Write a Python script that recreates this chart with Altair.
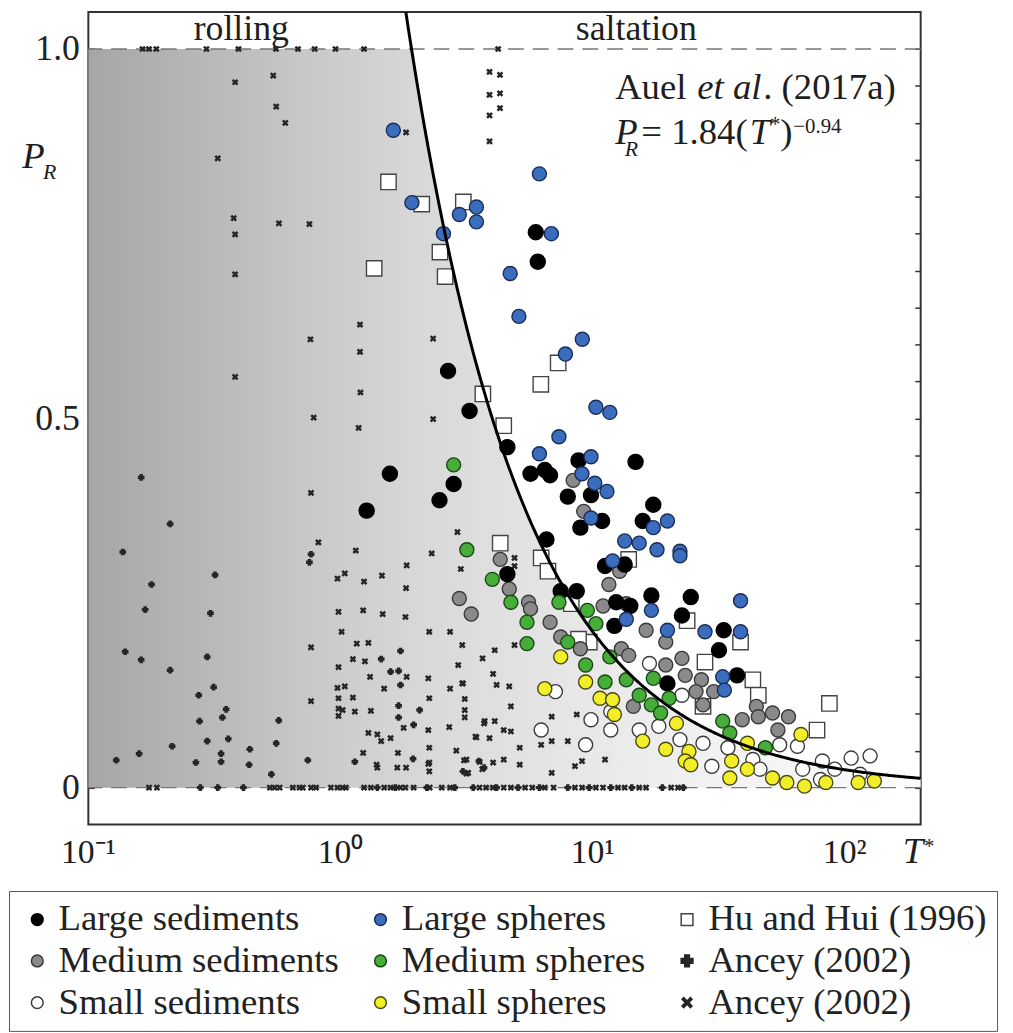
import altair as alt
import pandas as pd
import numpy as np

FONT = "Liberation Serif"

# ---------------- data (T*, P_R) ----------------
LARGE_SED_T = [2.67, 3.25, 5.95, 6.06, 1.57, 1.27, 2.81, 2.47, 4.59, 5.67, 6.46, 6.78, 8.79, 14.8,
               7.97, 9.85, 17.4, 15.8, 8.94, 10.9, 6.56, 4.59, 7.47, 8.65, 11.2, 13.4, 12.4, 14.1,
               17.1, 24.5, 22.6, 12.2, 33.1, 37.4, 31.7, 19.8]
LARGE_SED_P = [0.564, 0.510, 0.752, 0.712, 0.425, 0.375, 0.411, 0.389, 0.461, 0.425, 0.430, 0.423,
               0.443, 0.441, 0.394, 0.396, 0.383, 0.361, 0.352, 0.361, 0.336, 0.289, 0.266, 0.266,
               0.300, 0.302, 0.251, 0.246, 0.260, 0.258, 0.233, 0.219, 0.213, 0.152, 0.186, 0.141]

MED_SED_T = [2.96, 3.3, 8.37, 9.22, 12.8, 11.6, 4.30, 4.67, 5.57, 5.67, 6.78, 7.47, 8.94, 11.0,
             13.6, 13.0, 13.9, 16.3, 19.5, 19.5, 22.6, 23.3, 27.0, 25.7, 30.2, 27.4, 14.5, 39.2,
             44.6, 45.4, 51.7, 59.8, 54.3]
MED_SED_P = [0.256, 0.235, 0.416, 0.374, 0.293, 0.275, 0.309, 0.269, 0.251, 0.242, 0.224, 0.204,
             0.188, 0.246, 0.249, 0.188, 0.179, 0.213, 0.197, 0.166, 0.175, 0.152, 0.146, 0.130,
             0.130, 0.112, 0.110, 0.092, 0.110, 0.096, 0.101, 0.096, 0.078]

SMALL_SED_T = [7.12, 6.25, 9.38, 9.85, 11.8, 11.8, 15.3, 18.3, 16.8, 22.6, 22.2, 27.4, 29.7, 34.4,
               43.2, 46.1, 55.2, 64.9, 68.1, 80.1, 81.5, 91.3, 106, 126, 115]
SMALL_SED_P = [0.130, 0.078, 0.058, 0.092, 0.103, 0.078, 0.078, 0.083, 0.168, 0.125, 0.065, 0.060,
               0.029, 0.054, 0.038, 0.025, 0.058, 0.056, 0.025, 0.011, 0.036, 0.025, 0.040, 0.043,
               0.018]

LARGE_SPH_T = [1.62, 1.92, 2.96, 3.46, 3.46, 2.56, 6.15, 6.86, 4.71, 5.10, 9.1, 7.8, 10.3, 11.7,
               7.35, 6.15, 9.85, 9.07, 10.2, 11.4, 9.85, 19.8, 17.4, 13.4, 15.3, 18.0, 22.2, 22.2,
               12.0, 38.6, 17.1, 13.6, 19.8, 27.9, 38.6, 32.8, 33.3]
LARGE_SPH_P = [0.890, 0.792, 0.776, 0.786, 0.766, 0.750, 0.831, 0.750, 0.696, 0.638, 0.607, 0.587,
               0.515, 0.508, 0.475, 0.452, 0.448, 0.425, 0.412, 0.401, 0.365, 0.361, 0.352, 0.334,
               0.331, 0.322, 0.320, 0.314, 0.307, 0.253, 0.240, 0.228, 0.213, 0.211, 0.211, 0.150,
               0.132]

MED_SPH_T = [2.81, 3.17, 4.0, 4.74, 5.49, 5.49, 7.35, 9.53, 10.3, 7.97, 9.38, 11.2, 11.7, 13.6,
             15.3, 17.1, 18.6, 17.4, 20.1, 32.8, 35.0, 48.4]
MED_SPH_P = [0.437, 0.322, 0.282, 0.251, 0.224, 0.195, 0.251, 0.240, 0.222, 0.197, 0.166, 0.143,
             0.177, 0.146, 0.125, 0.112, 0.101, 0.148, 0.121, 0.090, 0.074, 0.054]

SMALL_SPH_T = [7.47, 6.46, 9.38, 10.7, 12.0, 12.2, 15.8, 19.5, 21.5, 24.1, 23.3, 24.5, 35.6, 35.0,
               41.1, 51.7, 58.9, 69.2, 67.0, 84.1, 131, 113, 41.1]
SMALL_SPH_P = [0.177, 0.134, 0.143, 0.121, 0.119, 0.099, 0.063, 0.052, 0.087, 0.049, 0.036, 0.031,
               0.036, 0.013, 0.060, 0.013, 0.007, 0.002, 0.072, 0.007, 0.009, 0.007, 0.025]

HU_T = [1.55, 2.10, 3.07, 1.36, 2.48, 2.60, 3.67, 7.3, 6.23, 4.44, 4.30, 6.25, 6.65, 13.9, 8.23,
        9.70, 8.79, 23.7, 38.6, 27.9, 27.4, 43.2, 45.4, 77.6, 86.9]
HU_P = [0.820, 0.790, 0.793, 0.703, 0.725, 0.692, 0.533, 0.575, 0.546, 0.490, 0.331, 0.311, 0.293,
        0.309, 0.249, 0.197, 0.201, 0.226, 0.197, 0.170, 0.110, 0.146, 0.125, 0.078, 0.114]

ANCEY_PLUS_T = [0.162, 0.211, 0.137, 0.178, 0.168, 0.318, 0.305, 0.140, 0.296, 0.162, 0.211, 0.314,
                0.274, 0.352, 0.340, 0.276, 0.569, 0.215, 0.359, 0.296, 0.556, 0.437, 0.336, 0.336,
                0.159, 0.129, 0.267, 0.434, 0.742, 0.532, 0.764, 0.753, 1.73, 1.45, 1.58, 1.70,
                1.73, 1.70, 1.70, 1.95, 2.06, 1.14, 1.94, 3.06, 3.54, 3.71,
                0.278, 0.326, 0.412, 1.40, 1.65, 2.20, 2.84, 3.36, 4.16, 5.06, 6.15, 7.97, 9.69,
                11.8, 14.3, 18.9, 22.9]
ANCEY_PLUS_P = [0.420, 0.357, 0.319, 0.275, 0.241, 0.288, 0.236, 0.184, 0.177, 0.173, 0.159, 0.136,
                0.125, 0.106, 0.095, 0.090, 0.091, 0.056, 0.066, 0.063, 0.060, 0.052, 0.046, 0.035,
                0.046, 0.037, 0.034, 0.031, 0.037, 0.018, 0.316, 0.305, 0.185, 0.174, 0.157, 0.158,
                0.139, 0.111, 0.095, 0.085, 0.105, 0.035, 0.039, 0.022, 0.036, 0.027,
                0.0, 0.0, 0.0, 0.0, 0.0, 0.0, 0.0, 0.0, 0.0, 0.0, 0.0, 0.0, 0.0,
                0.0, 0.0, 0.0, 0.0]

ANCEY_CROSS_T = [0.164, 0.174, 0.186, 0.294, 0.394, 0.555, 0.678, 0.79, 0.955, 1.24, 4.22,
                 0.382, 0.541, 0.556, 0.604, 0.326, 0.377, 0.382, 0.570, 0.753, 0.382, 1.82, 1.195,
                 0.760, 1.195, 2.33, 0.382, 1.20,
                 3.90, 4.29, 3.90, 4.29, 3.90, 4.29, 3.90,
                 2.33, 0.783, 1.18, 0.764, 0.817, 1.15, 2.30, 1.83, 2.91, 3.0, 0.973, 1.04, 1.24,
                 1.46, 1.82, 0.982, 1.23, 1.47, 1.81, 1.01, 2.25, 2.72, 1.16, 1.29, 3.04, 0.764,
                 1.12, 1.25, 2.93, 0.982, 1.31, 1.83, 2.23, 3.04, 0.973, 1.04, 2.72, 1.49, 0.982,
                 1.12, 2.25, 3.11, 0.764, 0.982, 1.02, 1.14, 1.32, 3.11, 3.11, 0.982, 3.73, 2.70,
                 1.78, 2.23, 2.25, 1.29, 1.40, 1.45, 1.58, 3.46, 1.23, 1.69, 2.88, 3.56, 1.39, 1.40,
                 1.68, 1.82, 2.23, 3.09, 3.16, 3.65,
                 4.9, 4.9, 4.9, 4.09, 3.66, 3.06, 4.03, 4.16, 4.67, 4.74, 3.71, 4.09, 3.43, 3.90,
                 4.44, 4.74, 5.14, 6.25, 6.88, 6.88, 8.65, 7.97, 11.2, 2.25, 3.16, 4.03, 4.44, 5.14,
                 8.51, 9.08, 6.88, 3.21, 2.25,
                 0.174, 0.187, 0.525, 0.549, 0.574, 0.647, 0.688, 0.709, 0.764, 0.800, 0.916,
                 0.973, 1.02, 1.05, 1.24, 1.32, 1.49, 1.58, 1.73, 1.81, 1.95, 2.26, 2.52, 2.72,
                 3.56, 3.78, 4.02, 4.44, 4.74, 5.40, 5.76, 6.46, 7.0, 8.51, 9.08, 10.3, 11.0, 12.6,
                 13.4, 15.3, 16.3, 20.5, 21.8]
ANCEY_CROSS_P = [1.0, 1.0, 1.0, 1.0, 1.0, 1.0, 1.0, 1.0, 1.0, 1.0, 1.0,
                 0.955, 0.964, 0.922, 0.900, 0.852, 0.771, 0.749, 0.764, 0.763, 0.695, 0.887, 0.627,
                 0.607, 0.590, 0.608, 0.556, 0.535,
                 0.969, 0.965, 0.938, 0.940, 0.910, 0.920, 0.875,
                 0.499, 0.501, 0.487, 0.399, 0.332, 0.321, 0.317, 0.301, 0.346, 0.296, 0.283, 0.290,
                 0.279, 0.287, 0.270, 0.238, 0.240, 0.235, 0.231, 0.211, 0.211, 0.211, 0.195, 0.196,
                 0.193, 0.190, 0.174, 0.171, 0.166, 0.163, 0.150, 0.150, 0.148, 0.141, 0.135, 0.137,
                 0.134, 0.134, 0.121, 0.122, 0.121, 0.120, 0.117, 0.107, 0.105, 0.103, 0.104, 0.105,
                 0.095, 0.097, 0.090, 0.082, 0.081, 0.078, 0.054, 0.074, 0.072, 0.063, 0.067, 0.068,
                 0.047, 0.047, 0.050, 0.035, 0.031, 0.027, 0.027, 0.027, 0.032, 0.037, 0.019, 0.025,
                 0.311, 0.300, 0.193, 0.186, 0.175, 0.141, 0.154, 0.139, 0.137, 0.110, 0.087, 0.090,
                 0.069, 0.067, 0.078, 0.076, 0.054, 0.058, 0.063, 0.096, 0.099, 0.063, 0.038, 0.034,
                 0.038, 0.034, 0.038, 0.031, 0.029, 0.036, 0.020, 0.020, 0.022,
                 0.0, 0.0, 0.0, 0.0, 0.0, 0.0, 0.0, 0.0, 0.0, 0.0, 0.0,
                 0.0, 0.0, 0.0, 0.0, 0.0, 0.0, 0.0, 0.0, 0.0, 0.0, 0.0, 0.0, 0.0,
                 0.0, 0.0, 0.0, 0.0, 0.0, 0.0, 0.0, 0.0, 0.0, 0.0, 0.0, 0.0, 0.0, 0.0,
                 0.0, 0.0, 0.0, 0.0, 0.0]

# fit of Auel et al. (2017a): P_R = 1.84 (T*)^-0.94
FIT_A = 1.84
FIT_B = -0.94

X_TICKS = [0.1, 0.2, 0.3, 0.4, 0.5, 0.6, 0.7, 0.8, 0.9, 1, 2, 3, 4, 5, 6, 7, 8, 9,
           10, 20, 30, 40, 50, 60, 70, 80, 90, 100]
X_TICK_LABELS = ["10\u207b\u00b9", "10\u2070", "10\u00b9", "10\u00b2"]
X_TICK_LABEL_AT = [0.1, 1, 10, 100]
Y_TICKS = [0, 0.05, 0.1, 0.15, 0.2, 0.25, 0.3, 0.35, 0.4, 0.45, 0.5, 0.55, 0.6, 0.65,
           0.7, 0.75, 0.8, 0.85, 0.9, 0.95, 1.0]
DASHED_LEVELS = [0, 1]

# annotations: text, T position, P position, style
ANN_TEXT = ["rolling", "saltation",
            "Auel", "et al", ". (2017a)",
            "P", "R", "= 1.84(", "T", "*", ")", "\u22120.94",
            "P", "R", "T", "*"]
ANN_T = [0.404, 14.9,
         12.28, 26.0, 47.5,
         12.28, 13.4, 15.6, 42.0, 50.5, 55.5, 62.5,
         0.0547, 0.0661, 169.7, 206.0]
ANN_P = [1.012, 1.012,
         0.932, 0.932, 0.932,
         0.871, 0.855, 0.871, 0.871, 0.889, 0.871, 0.886,
         0.839, 0.824, -0.1025, -0.088]
ANN_STYLE = ["center", "center",
             "roman", "italic", "roman",
             "italic", "sub_italic", "roman", "italic", "sup", "roman", "sup",
             "italic", "sub_italic", "italic", "sup"]
TICK_LABEL_P = -0.1025

# ---------------- styles ----------------
XPATH = ("M-0.566,-0.849L0,-0.283L0.566,-0.849L0.849,-0.566L0.283,0L0.849,0.566L0.566,0.849"
         "L0,0.283L-0.566,0.849L-0.849,0.566L-0.283,0L-0.849,-0.566Z")

# column-major order (legend fills down the columns)
LEGEND_ORDER = ["Large sediments", "Medium sediments", "Small sediments",
                "Large spheres", "Medium spheres", "Small spheres",
                "Hu and Hui (1996)", "Ancey (2002)", "Ancey (2002) "]
STYLE = {
    "Large sediments": ("circle", "#000000", "#000000", 230),
    "Large spheres": ("circle", "#3b6dbf", "#1b2d55", 200),
    "Hu and Hui (1996)": ("square", "#ffffff", "#444444", 240),
    "Medium sediments": ("circle", "#8a8a8a", "#3a3a3a", 200),
    "Medium spheres": ("circle", "#46ad38", "#1c461a", 200),
    "Ancey (2002)": ("cross", "#262626", "#262626", 28),
    "Small sediments": ("circle", "#ffffff", "#3a3a3a", 200),
    "Small spheres": ("circle", "#f2ee2a", "#4a4816", 200),
    "Ancey (2002) ": (XPATH, "#262626", "#262626", 32),
}
DRAW_ORDER = ["Ancey (2002)", "Ancey (2002) ", "Hu and Hui (1996)", "Medium sediments",
              "Small sediments", "Large sediments", "Large spheres", "Medium spheres",
              "Small spheres"]
SERIES_DATA = {
    "Large sediments": (LARGE_SED_T, LARGE_SED_P),
    "Medium sediments": (MED_SED_T, MED_SED_P),
    "Small sediments": (SMALL_SED_T, SMALL_SED_P),
    "Large spheres": (LARGE_SPH_T, LARGE_SPH_P),
    "Medium spheres": (MED_SPH_T, MED_SPH_P),
    "Small spheres": (SMALL_SPH_T, SMALL_SPH_P),
    "Hu and Hui (1996)": (HU_T, HU_P),
    "Ancey (2002)": (ANCEY_PLUS_T, ANCEY_PLUS_P),
    "Ancey (2002) ": (ANCEY_CROSS_T, ANCEY_CROSS_P),
}

rows = []
k = 0
for name in DRAW_ORDER:
    ts, ps = SERIES_DATA[name]
    for t, p in zip(ts, ps):
        rows.append({"T": t, "P": p, "series": name, "sz": STYLE[name][3], "k": k})
        k += 1
pts_df = pd.DataFrame(rows)

# fit curve and the rolling-region fill under it
t_curve = np.logspace(np.log10((1.05 / FIT_A) ** (1 / FIT_B)), np.log10(200), 300)
curve_df = pd.DataFrame({"T": t_curve, "P": FIT_A * t_curve ** FIT_B})
t_fill = np.logspace(-1, np.log10(200), 400)
fill_df = pd.DataFrame({"T": t_fill, "P": np.minimum(1.0, FIT_A * t_fill ** FIT_B)})

ann_df = pd.DataFrame({"label": ANN_TEXT, "T": ANN_T, "P": ANN_P, "style": ANN_STYLE})
tick_lbl_df = pd.DataFrame({"label": X_TICK_LABELS, "T": X_TICK_LABEL_AT,
                            "P": [TICK_LABEL_P] * len(X_TICK_LABELS)})

# ---------------- chart ----------------
xs = alt.Scale(type="log", domain=[0.1, 200], nice=False)
ys = alt.Scale(domain=[-0.05, 1.05], nice=False, zero=False)

x_axis = alt.Axis(values=X_TICKS, title=None, grid=False, domain=False, labels=False,
                  tickSize=6, offset=-6, tickColor="#333", tickWidth=1.5)
y_axis_left = alt.Axis(values=Y_TICKS, title=None, grid=False, domain=False,
                       tickSize=6, offset=-6, tickColor="#333", tickWidth=1.5,
                       labelExpr="datum.value == 0 ? '0' : datum.value == 0.5 ? '0.5' : "
                                 "datum.value == 1 ? '1.0' : ''",
                       labelFont=FONT, labelFontSize=36, labelColor="#222", labelPadding=9,
                       labelOverlap=False, labelFlush=False)
y_axis_right = alt.Axis(orient="right", values=Y_TICKS, title=None, grid=False, domain=False,
                        tickSize=6, offset=-6, tickColor="#333", tickWidth=1.5, labels=False)

gradient = alt.Gradient(
    gradient="linear",
    stops=[alt.GradientStop(color="#a6a6a6", offset=0.0),
           alt.GradientStop(color="#c9c9c9", offset=0.27),
           alt.GradientStop(color="#d8d8d8", offset=0.40),
           alt.GradientStop(color="#e5e5e5", offset=0.56),
           alt.GradientStop(color="#f1f1f1", offset=0.74),
           alt.GradientStop(color="#fcfcfc", offset=1.0)],
    x1=0, x2=1, y1=0, y2=0)

fill_layer = alt.Chart(fill_df).mark_area(color=gradient, line=False).encode(
    x=alt.X("T:Q", scale=xs, axis=x_axis),
    y=alt.Y("P:Q", scale=ys, axis=y_axis_left),
    y2=alt.datum(0),
)

rules = alt.Chart(pd.DataFrame({"v": DASHED_LEVELS})).mark_rule(
    color="#777777", strokeDash=[16, 9], strokeWidth=1.5).encode(
    y=alt.Y("v:Q", scale=ys, axis=y_axis_right))

legend = alt.Legend(orient="none", legendX=-80, legendY=886, columns=3, title=None,
                    labelFont=FONT, labelFontSize=37, labelColor="#222", labelLimit=600,
                    symbolSize=140, symbolStrokeWidth=1.5, labelOffset=3,
                    strokeColor="#555", padding=10, rowPadding=4, columnPadding=23,
                    gridAlign="each", fillColor="white")

points = alt.Chart(pts_df).mark_point(filled=True, opacity=1, strokeWidth=1.4).encode(
    x=alt.X("T:Q", scale=xs, axis=None),
    y=alt.Y("P:Q", scale=ys, axis=None),
    shape=alt.Shape("series:N", scale=alt.Scale(domain=LEGEND_ORDER,
                    range=[STYLE[s][0] for s in LEGEND_ORDER]), legend=legend),
    fill=alt.Fill("series:N", scale=alt.Scale(domain=LEGEND_ORDER,
                  range=[STYLE[s][1] for s in LEGEND_ORDER]), legend=legend),
    stroke=alt.Stroke("series:N", scale=alt.Scale(domain=LEGEND_ORDER,
                      range=[STYLE[s][2] for s in LEGEND_ORDER]), legend=legend),
    size=alt.Size("sz:Q", scale=None, legend=None),
    order=alt.Order("k:Q"),
)

curve = alt.Chart(curve_df).mark_line(color="black", strokeWidth=3).encode(
    x=alt.X("T:Q", scale=xs, axis=None),
    y=alt.Y("P:Q", scale=ys, axis=None),
)


def text_layer(df, size, italic, align):
    return alt.Chart(df).mark_text(
        font=FONT, fontSize=size, fontStyle="italic" if italic else "normal",
        align=align, baseline="alphabetic", color="#1e1e1e").encode(
        x=alt.X("T:Q", scale=xs, axis=None),
        y=alt.Y("P:Q", scale=ys, axis=None),
        text="label:N")


def sub(style_key):
    return ann_df[ann_df["style"] == style_key]


texts = [text_layer(sub("center"), 36, False, "center"),
         text_layer(sub("roman"), 37, False, "left"),
         text_layer(sub("italic"), 37, True, "left"),
         text_layer(sub("sub_italic"), 22, True, "left"),
         text_layer(sub("sup"), 21, False, "left"),
         text_layer(tick_lbl_df, 34, False, "center")]

chart = alt.layer(fill_layer, rules, points, curve, *texts).resolve_axis(
    y="independent"
).properties(
    width=839, height=819,
    padding={"left": 81, "top": 0, "right": 85, "bottom": 206},
    autosize=alt.AutoSizeParams(type="none"),
    background="white",
).configure_view(stroke="#333333", strokeWidth=2)

chart.save("out.html", embed_options={"renderer": "svg", "actions": False})
